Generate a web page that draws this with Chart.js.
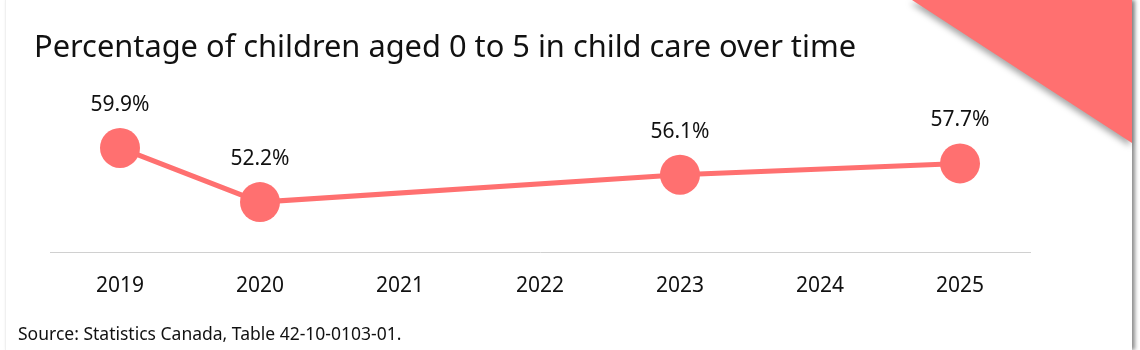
<!DOCTYPE html>
<html>
<head>
<meta charset="utf-8">
<script src="https://cdn.jsdelivr.net/npm/chart.js@4"></script>
<style>
  body { margin: 0; background: #fff; font-family: "Noto Sans", "Open Sans", sans-serif; }
  .card {
    position: absolute; left: 5px; top: 0; width: 1126px; height: 350px;
    border-left: 1px solid #f0f0f0; background: #fff;
    box-shadow: 3px 0 4px rgba(0,0,0,0.45);
  }
  .corner-wrap { position: absolute; right: 0; top: 0; width: 220px; height: 143px;
    filter: drop-shadow(-2px 3px 3px rgba(0,0,0,0.35)); }
  .corner { width: 100%; height: 100%; background: #ff7070;
    clip-path: polygon(0 0, 100% 0, 100% 100%); }
  #wrap { position: absolute; left: 0; top: 0; width: 1140px; height: 350px; }
  .title { position: absolute; left: 34px; top: 24px; font-size: 30.8px; color: #111; white-space: nowrap; }
  .source { position: absolute; left: 18px; top: 321px; font-size: 17.5px; color: #111; white-space: nowrap; }
</style>
</head>
<body>
<div class="card"><div class="corner-wrap"><div class="corner"></div></div></div>
<div id="wrap"><canvas id="chart" width="1140" height="350"></canvas></div>
<div class="title">Percentage of children aged 0 to 5 in child care over time</div>
<div class="source">Source: Statistics Canada, Table 42-10-0103-01.</div>
<script>
const years = ['2019', '2020', '2021', '2022', '2023', '2024', '2025'];
const percentages = [59.9, 52.2, null, null, 56.1, null, 57.7];

const valueLabels = {
    id: 'valueLabels',
    afterDatasetsDraw(chart) {
        const ctx = chart.ctx;
        const meta = chart.getDatasetMeta(0);
        ctx.save();
        ctx.font = '21px "Noto Sans", "Open Sans", sans-serif';
        ctx.fillStyle = '#111';
        ctx.textAlign = 'center';
        ctx.textBaseline = 'middle';
        meta.data.forEach((pt, i) => {
            const v = percentages[i];
            if (v === null) return;
            ctx.fillText(v.toFixed(1) + '%', pt.x, pt.y - 43);
        });
        ctx.restore();
    }
};

const ctx = document.getElementById('chart').getContext('2d');
new Chart(ctx, {
    type: 'line',
    data: {
        labels: years,
        datasets: [{
            data: percentages,
            borderColor: '#ff7070',
            backgroundColor: '#ff7070',
            borderWidth: 5,
            pointRadius: 20,
            pointHoverRadius: 20,
            pointBackgroundColor: '#ff7070',
            pointBorderWidth: 0,
            spanGaps: true,
            tension: 0
        }]
    },
    options: {
        responsive: false,
        animation: false,
        layout: { padding: { left: 50, right: 110, top: 112, bottom: 30 } },
        plugins: { legend: { display: false }, tooltip: { enabled: false } },
        scales: {
            x: {
                offset: true,
                grid: { display: false, drawTicks: false },
                border: { color: '#d0d0d0', width: 1 },
                ticks: { color: '#111', font: { size: 21, family: '"Noto Sans", "Open Sans", sans-serif' }, padding: 21 }
            },
            y: { display: false, min: 45, max: 65 }
        }
    },
    plugins: [valueLabels]
});
</script>
</body>
</html>
